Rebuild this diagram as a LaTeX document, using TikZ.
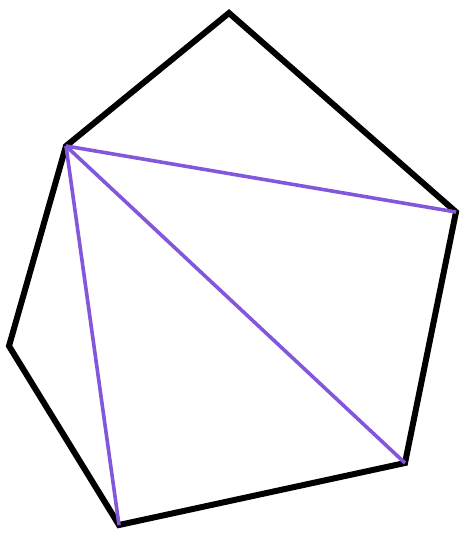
\documentclass[tikz,border=0pt]{standalone}
\begin{document}
\begin{tikzpicture}
[
x=1pt, y=-1pt,
edge/.style={line width=6pt, black, line join=miter},
diag/.style={line width=3.6pt, color={rgb,255:red,130;green,87;blue,219}},
]
\useasboundingbox (0,0) rectangle (465,551);
%
\coordinate (A) at (229, 13);
\coordinate (B) at (456,212);
\coordinate (C) at (405,463);
\coordinate (D) at (119,525);
\coordinate (E) at (  9,346);
\coordinate (F) at ( 66,146);
%
\draw [edge] (A) -- (B) -- (C) -- (D) -- (E) -- (F) -- cycle;
%
\draw [diag] (F) -- (B);
\draw [diag] (F) -- (C);
\draw [diag] (F) -- (D);
%
\end{tikzpicture}
\end{document}
